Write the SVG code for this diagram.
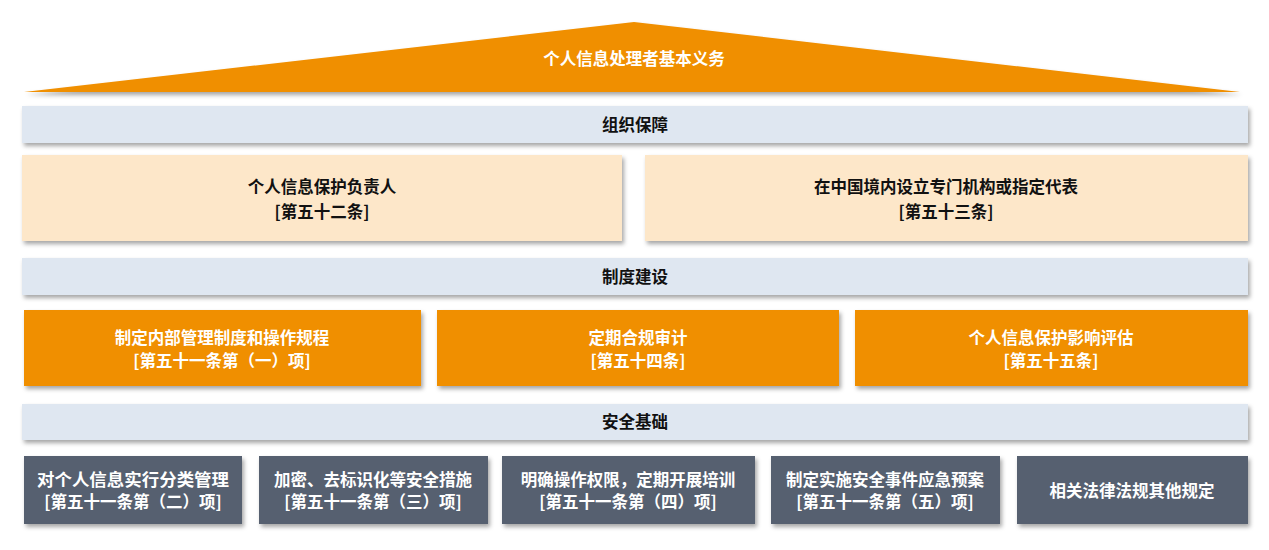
<svg xmlns="http://www.w3.org/2000/svg" width="1269" height="550" viewBox="0 0 1269 550">
<defs>
<filter id="sh" x="-5%" y="-10%" width="110%" height="130%"><feDropShadow dx="2" dy="3" stdDeviation="2" flood-color="#000" flood-opacity="0.35"/></filter>
</defs>
<style>
text{font-family:"Noto Sans CJK SC","Liberation Sans",sans-serif;font-weight:bold;font-size:16.5px;text-anchor:middle}
.o{fill:#F08F00}.b{fill:#DFE7F1}.c{fill:#FDE7C9}.g{fill:#576170}
.w{fill:#fff}.k{fill:#111}
</style>
<rect width="1269" height="550" fill="#fff"/>
<g id="roof"><polygon class="o" filter="url(#sh)" points="634,22 1240,92 24,92"/><text class="w" x="634" y="65" font-size="18.5">个人信息处理者基本义务</text></g>
<g id="band1"><rect class="b" filter="url(#sh)" x="22" y="106" width="1226" height="37"/><text class="k" x="635" y="131">组织保障</text></g>
<g id="n1"><rect class="c" filter="url(#sh)" x="22" y="155" width="600" height="86"/><text class="k" x="322" y="193" font-size="17.5">个人信息保护负责人</text><text class="k" x="322" y="218" font-size="17.5">[第五十二条]</text></g>
<g id="n2"><rect class="c" filter="url(#sh)" x="645" y="155" width="603" height="86"/><text class="k" x="946" y="193" font-size="17.5">在中国境内设立专门机构或指定代表</text><text class="k" x="946" y="218" font-size="17.5">[第五十三条]</text></g>
<g id="band2"><rect class="b" filter="url(#sh)" x="22" y="258" width="1226" height="37"/><text class="k" x="635" y="283">制度建设</text></g>
<g id="n3"><rect class="o" filter="url(#sh)" x="24" y="310" width="397" height="76"/><text class="w" x="222" y="344">制定内部管理制度和操作规程</text><text class="w" x="222" y="367">[第五十一条第（一）项]</text></g>
<g id="n4"><rect class="o" filter="url(#sh)" x="437" y="310" width="402" height="76"/><text class="w" x="638" y="344">定期合规审计</text><text class="w" x="638" y="367">[第五十四条]</text></g>
<g id="n5"><rect class="o" filter="url(#sh)" x="855" y="310" width="393" height="76"/><text class="w" x="1051" y="344">个人信息保护影响评估</text><text class="w" x="1051" y="367">[第五十五条]</text></g>
<g id="band3"><rect class="b" filter="url(#sh)" x="22" y="404" width="1226" height="36"/><text class="k" x="635" y="428">安全基础</text></g>
<g id="n6"><rect class="g" filter="url(#sh)" x="24" y="456" width="218" height="68"/><text class="w" x="133" y="486" textLength="192" lengthAdjust="spacingAndGlyphs">对个人信息实行分类管理</text><text class="w" x="133" y="508">[第五十一条第（二）项]</text></g>
<g id="n7"><rect class="g" filter="url(#sh)" x="259" y="456" width="229" height="68"/><text class="w" x="373" y="486">加密、去标识化等安全措施</text><text class="w" x="373" y="508">[第五十一条第（三）项]</text></g>
<g id="n8"><rect class="g" filter="url(#sh)" x="502" y="456" width="253" height="68"/><text class="w" x="628" y="486">明确操作权限，定期开展培训</text><text class="w" x="628" y="508">[第五十一条第（四）项]</text></g>
<g id="n9"><rect class="g" filter="url(#sh)" x="771" y="456" width="229" height="68"/><text class="w" x="885" y="486">制定实施安全事件应急预案</text><text class="w" x="885" y="508">[第五十一条第（五）项]</text></g>
<g id="n10"><rect class="g" filter="url(#sh)" x="1017" y="456" width="231" height="68"/><text class="w" x="1132" y="497">相关法律法规其他规定</text></g>
<g id="connectors"/>
</svg>
